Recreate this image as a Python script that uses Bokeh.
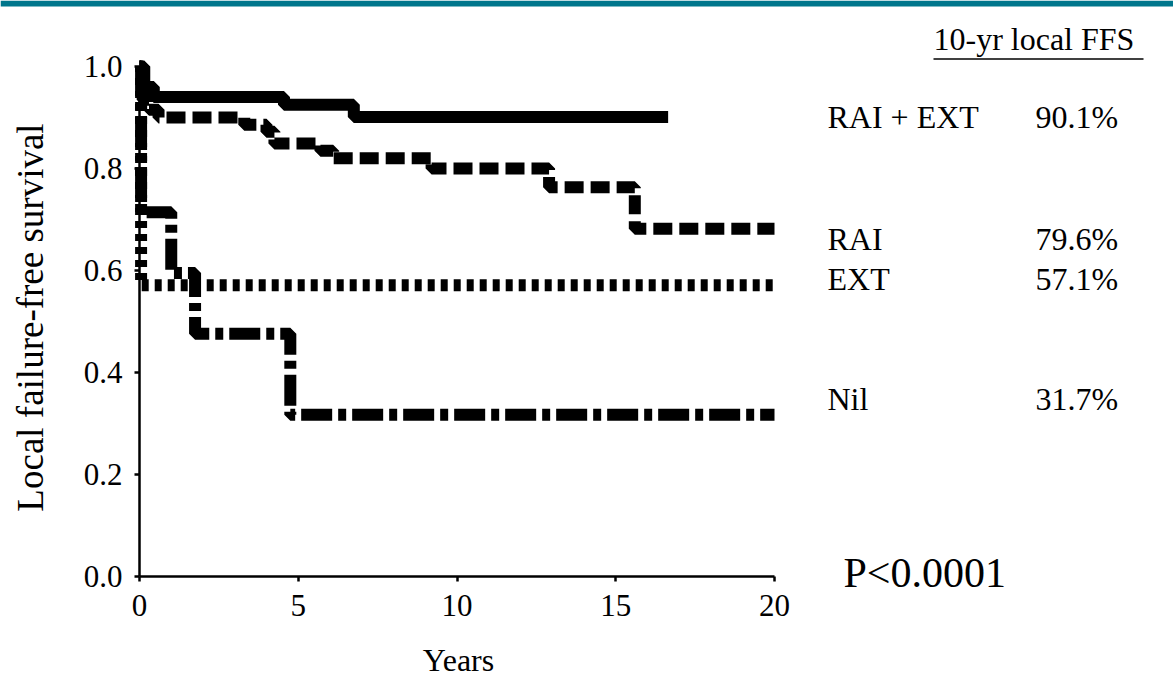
import math
from bokeh.plotting import figure
from bokeh.models import Range1d, Label, BoxAnnotation, FixedTicker, PrintfTickFormatter
from bokeh.core.properties import value
from bokeh.embed import file_html
from bokeh.resources import INLINE

# ---- data ----
rai_ext_t = [0.0, 0.15, 0.45, 4.55, 6.75, 16.65]
rai_ext_s = [1.0, 0.96, 0.940, 0.925, 0.901, 0.901]

rai_t = [0.0, 0.1, 0.3, 0.6, 3.3, 4.0, 4.25, 5.7, 6.1, 9.2, 12.9, 15.6, 20.0]
rai_s = [1.0, 0.935, 0.915, 0.90, 0.886, 0.872, 0.849, 0.835, 0.82, 0.80, 0.763, 0.682, 0.682]

ext_t = [0.0, 0.05, 20.0]
ext_s = [1.0, 0.571, 0.571]

nil_t = [0.0, 0.05, 1.0, 1.75, 4.75, 20.0]
nil_s = [1.0, 0.714, 0.595, 0.476, 0.317, 0.317]

groups = ["RAI + EXT", "RAI", "EXT", "Nil"]
ffs_10yr = ["90.1%", "79.6%", "57.1%", "31.7%"]
x_ticks = [0, 5, 10, 15, 20]
y_ticks = [0.0, 0.2, 0.4, 0.6, 0.8, 1.0]

W, H = 1173, 682
X0PX, XSCALE = 139.0, 31.75      # px of x=0, px per year
Y0PX, YSCALE = 576.0, 510.0      # px of y=0 (from top), px per unit

def dx(px):
    return (px - X0PX) / XSCALE

def dy(py):
    return (Y0PX - py) / YSCALE

def base(py, fs):
    # compensate the renderer's baseline offset
    return dy(py - 0.36 * fs)

FONT = "Liberation Serif"

p = figure(width=W, height=H, output_backend="svg", toolbar_location=None,
           x_range=Range1d(dx(0), dx(W)), y_range=Range1d(dy(H), dy(0)),
           min_border=0, min_border_left=0, min_border_right=0,
           min_border_top=0, min_border_bottom=0)
p.outline_line_color = None
p.grid.visible = False
p.background_fill_color = "white"
p.border_fill_color = "white"

for ax in (p.xaxis[0], p.yaxis[0]):
    ax.fixed_location = 0
    ax.axis_line_width = 2.5
    ax.axis_line_color = "black"
    ax.major_tick_line_width = 2.5
    ax.major_tick_line_color = "black"
    ax.major_tick_in = 0
    ax.major_tick_out = 5
    ax.minor_tick_line_color = None
    ax.major_label_text_font = FONT
    ax.major_label_text_font_size = "31px"
    ax.major_label_text_color = "black"

p.xaxis[0].bounds = (0, 20)
p.xaxis[0].ticker = FixedTicker(ticks=x_ticks)
p.xaxis[0].major_label_standoff = 13
p.yaxis[0].bounds = (0, 1)
p.yaxis[0].ticker = FixedTicker(ticks=y_ticks)
p.yaxis[0].formatter = PrintfTickFormatter(format="%.1f")
p.yaxis[0].major_label_standoff = 12

# curves
lw = 12
p.step(rai_ext_t, rai_ext_s, mode="after", line_width=lw, line_color="black")
p.step(rai_t, rai_s, mode="after", line_width=lw, line_color="black", line_dash="19 7")
p.step(ext_t, ext_s, mode="after", line_width=lw, line_color="black", line_dash="7 6")
p.step(nil_t, nil_s, mode="after", line_width=lw, line_color="black", line_dash="31 6 8 6")

# top teal bar
p.add_layout(BoxAnnotation(bottom=dy(6), fill_color="#00768c", fill_alpha=1.0, line_color=None))

# axis titles
p.add_layout(Label(x=dx(458), y=base(671, 32), text="Years", text_font=FONT, text_font_size="32px",
                   text_align="center", text_baseline="alphabetic", text_color="black"))
p.add_layout(Label(x=dx(30), y=dy(317), text="Local failure-free survival", text_font=FONT,
                   text_font_size="37px", angle=math.pi / 2, text_align="center",
                   text_baseline="middle", text_color="black"))

# legend table
LFS = 32
p.add_layout(Label(x=dx(933), y=base(50, LFS), text="10-yr local FFS", text_font=FONT,
                   text_font_size=f"{LFS}px", text_baseline="alphabetic", text_color="black"))
p.segment(x0=[dx(933)], y0=[dy(58.5)], x1=[dx(1143)], y1=[dy(58.5)], line_color="black", line_width=1.5)

base_py = [128, 250, 290, 410]
p.text(x=[dx(827)] * 4, y=[base(b, LFS) for b in base_py], text=groups, text_font=value(FONT),
       text_font_size=f"{LFS}px", text_baseline="alphabetic", text_color="black")
p.text(x=[dx(1035)] * 4, y=[base(b, LFS) for b in base_py], text=ffs_10yr, text_font=value(FONT),
       text_font_size=f"{LFS}px", text_baseline="alphabetic", text_color="black")

p.add_layout(Label(x=dx(843), y=base(588, 42), text="P<0.0001", text_font=FONT,
                   text_font_size="42px", text_baseline="alphabetic", text_color="black"))

open("out.html", "w").write(file_html(p, INLINE))
